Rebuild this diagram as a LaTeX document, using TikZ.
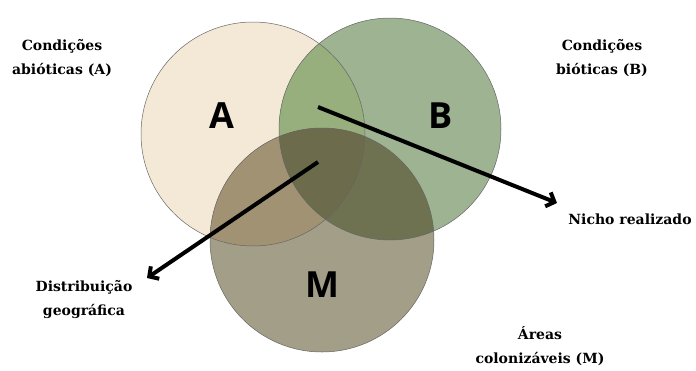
\documentclass[tikz,border=0pt]{standalone}
\usepackage{fontspec}
\setmainfont{DejaVu Serif}
\newfontfamily\bigsans{Open Sans}
\usetikzlibrary{arrows.meta}
\definecolor{colA}{HTML}{F3E9D6}
\definecolor{colB}{HTML}{9DB391}
\definecolor{colM}{HTML}{A39E87}
\definecolor{colAB}{HTML}{97AE7D}
\definecolor{colAM}{HTML}{A09273}
\definecolor{colBM}{HTML}{6E7250}
\definecolor{colABM}{HTML}{6C6B4B}
\tikzset{
  lbl/.style={font=\bfseries\fontsize{14}{24}\selectfont, align=center, text=black},
  biglbl/.style={font=\bigsans\bfseries\fontsize{36}{40}\selectfont, text=black},
  ring/.style={draw=black!60, line width=0.5pt},
  arr/.style={line width=4pt, -{Straight Barb[length=7pt,width=15pt,line width=4pt]}}
}
\begin{document}
\begin{tikzpicture}[x=1pt,y=-1pt]
\useasboundingbox (0,0) rectangle (696,370);
\def\cA{(253,134) circle (112)}
\def\cB{(390,129) circle (111)}
\def\cM{(322,240) circle (112)}
\fill[colA] \cA;
\fill[colB] \cB;
\fill[colM] \cM;
\begin{scope}\clip \cA; \fill[colAB] \cB; \end{scope}
\begin{scope}\clip \cA; \fill[colAM] \cM; \end{scope}
\begin{scope}\clip \cB; \fill[colBM] \cM; \end{scope}
\begin{scope}\clip \cA; \clip \cB; \fill[colABM] \cM; \end{scope}
\draw[ring] \cA;
\draw[ring] \cB;
\draw[ring] \cM;
\node[biglbl] (la) at (222,116) {A};
\node[biglbl] (lb) at (441,116) {B};
\node[biglbl] (lm) at (322,285) {M};
\coordinate (s1) at (318,107);
\coordinate (e1) at (557,203);
\coordinate (s2) at (318,162);
\coordinate (e2) at (147,278);
\draw[arr] (s1) -- (e1);
\draw[arr] (s2) -- (e2);
\node[lbl] (ta) at (62,58) {Condições\\abióticas (A)};
\node[lbl] (tb) at (602,58) {Condições\\bióticas (B)};
\node[lbl] (tn) at (630,219) {Nicho realizado};
\node[lbl] (td) at (84,300) {Distribuição\\geográfica};
\node[lbl] (tm) at (540,346) {Áreas\\colonizáveis (M)};
\end{tikzpicture}
\end{document}
